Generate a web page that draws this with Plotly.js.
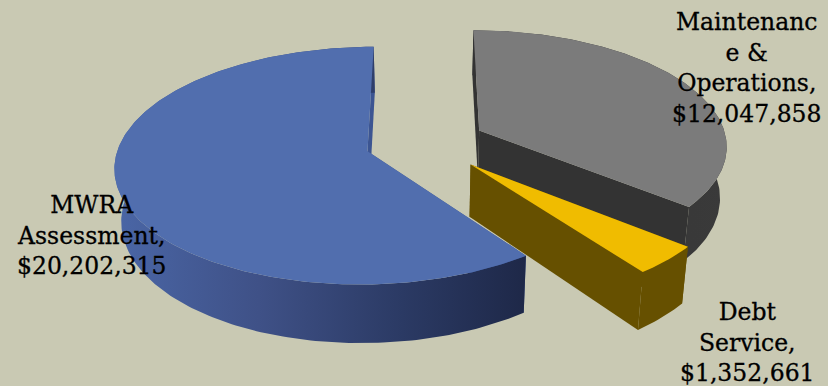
<!DOCTYPE html>
<html>
<head>
<meta charset="utf-8">
<script src="https://cdn.plot.ly/plotly-3.0.1.min.js"></script>
<style>html,body{margin:0;padding:0;background:#c9c9b3;overflow:hidden}#chart{width:828px;height:386px}
.annotation-text{stroke:#000000;stroke-width:0.3px}</style>
</head>
<body>
<div id="chart"></div>
<script>
// Budget shares, clockwise from twelve o'clock
const categories = ["Maintenance & Operations", "Debt Service", "MWRA Assessment"];
const amounts = [12047858, 1352661, 20202315];
const labelLines = [["Maintenanc", "e &", "Operations,"], ["Debt", "Service,"], ["MWRA", "Assessment,"]];
const labelAnchors = [[747, 68], [747, 342], [92, 235]];
const topColors = ["#7b7b7b", "#f0bc00", "#516eae"];
const sideGradients = [
  [[0, "#333333"], [1, "#3a3a3a"]],
  [[0, "#665000"], [1, "#665000"]],
  [[0, "#4a66a6"], [0.35, "#3f5187"], [0.7, "#2b3a64"], [1, "#1e2848"]]
];
const radialColors = ["#333333", "#665000", "#3c5592"];
const explodeBySlice = [0.245, 0.26, 0.242];

// Perspective pie: disc units projected onto the page, every slice pulled out along its bisector
const view = {cx: 425, cy: 142.5, rx: 248, ry: 115, tilt: 0.12, depth: 51, taper: 0.978};

const scaleAt = v => 1 / (1 + view.tilt * v);
const projectTop = (u, v) => [view.cx + view.rx * u * scaleAt(v), view.cy - view.ry * v * scaleAt(v)];
const projectBase = (u, v) => {
  const p = projectTop(u, v);
  return [view.cx + (p[0] - view.cx) * view.taper, p[1] + view.depth * scaleAt(v)];
};

const total = amounts.reduce((a, b) => a + b, 0);
const traces = [];
const polygon = (pts, extra) => traces.push(Object.assign({
  type: "scatter", mode: "lines", x: pts.map(p => p[0]), y: pts.map(p => p[1]),
  fill: "toself", line: {width: 0}, hoverinfo: "skip", showlegend: false
}, extra));

let startAngle = 0;
const slices = amounts.map((value, i) => {
  const sweep = 360 * value / total;
  const slice = {i, start: startAngle, end: startAngle + sweep};
  startAngle += sweep;
  return slice;
});

[2, 0, 1].forEach(idx => {
  const s = slices[idx];
  const mid = (s.start + s.end) / 2 * Math.PI / 180;
  const ou = explodeBySlice[idx] * Math.sin(mid), ov = explodeBySlice[idx] * Math.cos(mid);
  const rim = [];
  const steps = Math.ceil(s.end - s.start);
  for (let k = 0; k <= steps; k++) {
    const a = (s.start + (s.end - s.start) * k / steps) * Math.PI / 180;
    rim.push([ou + Math.sin(a), ov + Math.cos(a)]);
  }
  const apex = [ou, ov];
  const first = rim[0], last = rim[rim.length - 1];
  // radial faces, outer wall, then the top surface
  [first, last].forEach(edge => polygon([
    projectTop(apex[0], apex[1]), projectTop(edge[0], edge[1]),
    projectBase(edge[0], edge[1]), projectBase(apex[0], apex[1])
  ], {fillcolor: radialColors[idx]}));
  const wall = rim.map(p => projectTop(p[0], p[1]))
    .concat(rim.slice().reverse().map(p => projectBase(p[0], p[1])));
  polygon(wall, {fillgradient: {type: "horizontal", colorscale: sideGradients[idx]}});
  polygon([projectTop(apex[0], apex[1])].concat(rim.map(p => projectTop(p[0], p[1]))),
    {fillcolor: topColors[idx]});
});

const money = v => "$" + v.toLocaleString("en-US");
const annotations = categories.map((name, i) => ({
  x: labelAnchors[i][0], y: labelAnchors[i][1], xref: "x", yref: "y",
  text: labelLines[i].concat(money(amounts[i])).join("<br>"),
  showarrow: false, align: "center", xanchor: "center", yanchor: "middle",
  font: {family: "DejaVu Serif, serif", size: 23.5, color: "#000000"}
}));

Plotly.newPlot("chart", traces, {
  width: 828, height: 386,
  margin: {l: 0, r: 0, t: 0, b: 0},
  paper_bgcolor: "#c9c9b3", plot_bgcolor: "#c9c9b3",
  xaxis: {range: [0, 828], visible: false, fixedrange: true},
  yaxis: {range: [386, 0], visible: false, fixedrange: true},
  showlegend: false, annotations
}, {displayModeBar: false, staticPlot: true});
</script>
</body>
</html>
